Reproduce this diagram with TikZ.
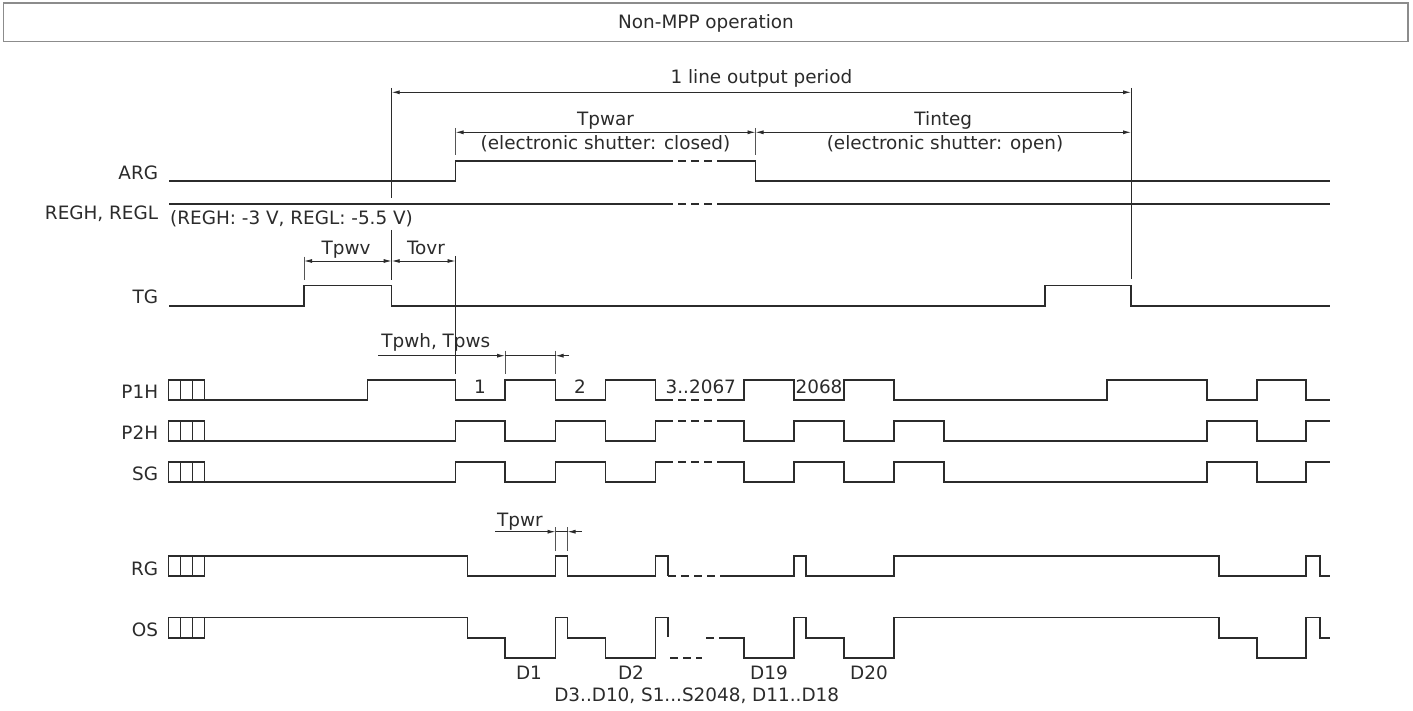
\documentclass[tikz,border=0pt]{standalone}
\usepackage{fontspec}
\setmainfont{DejaVu Sans}
\usetikzlibrary{arrows.meta}
\definecolor{ink}{HTML}{2B2B2B}
\definecolor{framegrey}{HTML}{8C8C8C}
\tikzset{
  sig/.style={draw=ink, line width=1.2pt, line join=miter},
  sigdash/.style={draw=ink, line width=1.2pt, dash pattern=on 8pt off 5pt},
  refline/.style={draw=ink, line width=1pt},
  tick/.style={draw=ink!80, line width=0.9pt},
  dim/.style={draw=ink, line width=0.9pt, {Latex[length=8pt,width=4pt]}-{Latex[length=8pt,width=4pt]}},
  dimr/.style={draw=ink, line width=0.9pt, -{Latex[length=8pt,width=4pt]}},
  lbl/.style={text=ink, font=\fontsize{18.4}{21}\selectfont, inner sep=0pt, anchor=base},
  siglbl/.style={lbl, anchor=base east},
  cellbox/.style={draw=ink, line width=1.2pt}
}
\newcommand{\cells}[3]{% unused, y-top, y-bottom
  \draw[cellbox] (168.3,#2) rectangle (204.3,#3);
  \draw[cellbox] (180.3,#2) -- (180.3,#3);
  \draw[cellbox] (192.3,#2) -- (192.3,#3);
}
\begin{document}
\begin{tikzpicture}[x=1pt,y=-1pt]
\useasboundingbox (0,0) rectangle (1413,711);
\fill[white] (0,0) rectangle (1413,711);

% title
\draw[framegrey, line width=1.3pt] (3.3,3) rectangle (1408,41.7);
\node[lbl] (title) at (706,28.5) {Non-MPP operation};

% signal labels
\node[siglbl] (lARG) at (158.3,179.3) {ARG};
\node[siglbl] (lREG) at (158.3,219.3) {REGH, REGL};
\node[siglbl] (lTG) at (158.3,304) {TG};
\node[siglbl] (lP1H) at (158.3,398.3) {P1H};
\node[siglbl] (lP2H) at (158.3,439.3) {P2H};
\node[siglbl] (lSG) at (158.3,480.7) {SG};
\node[siglbl] (lRG) at (158.3,575.3) {RG};
\node[siglbl] (lOS) at (158.3,636.7) {OS};

% ARG
\draw[sig] (169,181) -- (455.5,181) -- (455.5,161) -- (665,161);
\draw[sigdash] (665,161) -- (720,161);
\draw[sig] (720,161) -- (755.5,161) -- (755.5,181) -- (1330,181);

% REGH, REGL
\draw[sig] (169,204) -- (665,204);
\draw[sigdash] (665,204) -- (720,204);
\draw[sig] (720,204) -- (1330,204);
\node[lbl, anchor=base west] (regtxt) at (170,224.3) {(REGH: -3 V, REGL: -5.5 V)};

% TG
\draw[sig] (169,306) -- (304,306) -- (304,285.7) -- (391.7,285.7) -- (391.7,306)
  -- (1045,306) -- (1045,285.7) -- (1131,285.7) -- (1131,306) -- (1330,306);

% P1H
\cells{0}{380}{400}
\draw[sig] (204.3,400) -- (367.3,400) -- (367.3,380) -- (455.5,380) -- (455.5,400)
  -- (505,400) -- (505,380) -- (555.5,380) -- (555.5,400) -- (605.5,400) -- (605.5,380)
  -- (655.5,380) -- (655.5,400) -- (665,400);
\draw[sigdash] (665,400) -- (720,400);
\draw[sig] (720,400) -- (744,400) -- (744,380) -- (794,380) -- (794,400) -- (844,400)
  -- (844,380) -- (894,380) -- (894,400) -- (1107,400) -- (1107,380) -- (1207,380)
  -- (1207,400) -- (1257,400) -- (1257,380) -- (1306,380) -- (1306,400) -- (1330,400);
\node[lbl] (n1) at (480,393.3) {1};
\node[lbl] (n2) at (580,393.3) {2};
\node[lbl] (n3) at (700.8,393.3) {3..2067};
\node[lbl] (n2068) at (819,393.3) {2068};

% P2H
\cells{0}{421}{441}
\draw[sig] (204.3,441) -- (455.5,441) -- (455.5,421) -- (505,421) -- (505,441)
  -- (555.5,441) -- (555.5,421) -- (605.5,421) -- (605.5,441) -- (655.5,441)
  -- (655.5,421) -- (665,421);
\draw[sigdash] (665,421) -- (720,421);
\draw[sig] (720,421) -- (744,421) -- (744,441) -- (794,441) -- (794,421) -- (844,421)
  -- (844,441) -- (894,441) -- (894,421) -- (944,421) -- (944,441) -- (1207,441)
  -- (1207,421) -- (1257,421) -- (1257,441) -- (1306,441) -- (1306,421) -- (1330,421);

% SG
\cells{0}{462}{482}
\draw[sig] (204.3,482) -- (455.5,482) -- (455.5,462) -- (505,462) -- (505,482)
  -- (555.5,482) -- (555.5,462) -- (605.5,462) -- (605.5,482) -- (655.5,482)
  -- (655.5,462) -- (665,462);
\draw[sigdash] (665,462) -- (720,462);
\draw[sig] (720,462) -- (744,462) -- (744,482) -- (794,482) -- (794,462) -- (844,462)
  -- (844,482) -- (894,482) -- (894,462) -- (944,462) -- (944,482) -- (1207,482)
  -- (1207,462) -- (1257,462) -- (1257,482) -- (1306,482) -- (1306,462) -- (1330,462);

% RG
\cells{0}{556}{576}
\draw[sig] (204.3,556) -- (467.3,556) -- (467.3,576) -- (555.5,576) -- (555.5,556)
  -- (567.5,556) -- (567.5,576) -- (655.5,576) -- (655.5,556) -- (668,556) -- (668,576);
\draw[sigdash] (668,576) -- (726,576);
\draw[sig] (726,576) -- (794,576) -- (794,556) -- (806,556) -- (806,576) -- (894,576)
  -- (894,556) -- (1219,556) -- (1219,576) -- (1306,576) -- (1306,556) -- (1320,556)
  -- (1320,576) -- (1330,576);

% OS
\cells{0}{617.7}{638}
\draw[sig] (204.3,617.7) -- (467.3,617.7) -- (467.3,638) -- (505,638) -- (505,658)
  -- (555.5,658) -- (555.5,617.7) -- (567.5,617.7) -- (567.5,638) -- (605.5,638)
  -- (605.5,658) -- (655.5,658) -- (655.5,617.7) -- (668,617.7) -- (668,637);
\draw[sigdash] (670,658) -- (702,658);
\draw[sigdash] (706,638) -- (726,638);
\draw[sig] (726,638) -- (744,638) -- (744,658) -- (794,658) -- (794,617.7) -- (806,617.7)
  -- (806,638) -- (844,638) -- (844,658) -- (894,658) -- (894,617.7) -- (1219,617.7)
  -- (1219,638) -- (1257,638) -- (1257,658) -- (1306,658) -- (1306,617.7) -- (1320,617.7)
  -- (1320,638) -- (1330,638);
\node[lbl] (d1) at (529,679.3) {D1};
\node[lbl] (d2) at (631,679.3) {D2};
\node[lbl] (d19) at (769,679.3) {D19};
\node[lbl] (d20) at (869,679.3) {D20};
\node[lbl] (dmid) at (696.7,701.7) {D3..D10, S1...S2048, D11..D18};

% reference lines
\coordinate (pStartTop) at (391.7,88);
\coordinate (pEndTop) at (1131,88);
\draw[refline] (pStartTop) -- (391.7,198);
\draw[refline] (391.7,230) -- (391.7,280);
\draw[refline] (pEndTop) -- (1131,279);

% 1 line output period
\coordinate (lpA) at (391.7,92.3);
\coordinate (lpB) at (1131,92.3);
\draw[dim] (lpA) -- (lpB);
\node[lbl] (lp) at (761.4,83.3) {1 line output period};

% Tpwar / Tinteg
\draw[tick] (455.5,128) -- (455.5,155);
\draw[tick] (755.5,128) -- (755.5,155);
\coordinate (twA) at (455.5,132.3);
\coordinate (twB) at (755.5,132.3);
\coordinate (twC) at (1131,132.3);
\draw[dim] (twA) -- (twB);
\draw[dim] (twB) -- (twC);
\node[lbl] (tpwar) at (605.5,126) {Tpwar};
\node[lbl] (closed) at (605.5,150) {(electronic shutter: closed)};
\node[lbl] (tinteg) at (943.3,126) {Tinteg};
\node[lbl] (open) at (945,150) {(electronic shutter: open)};

% Tpwv / Tovr
\draw[tick] (304,256.7) -- (304,280);
\draw[refline] (455.5,256) -- (455.5,374);
\coordinate (tvA) at (304,261);
\coordinate (tvB) at (391.7,261);
\coordinate (tvC) at (455.5,261);
\draw[dim] (tvA) -- (tvB);
\draw[dim] (tvB) -- (tvC);
\node[lbl] (tpwv) at (346,255) {Tpwv};
\node[lbl] (tovr) at (426,255) {Tovr};

% Tpwh, Tpws
\draw[tick] (505,350.7) -- (505,374);
\draw[tick] (555.5,350.7) -- (555.5,374);
\coordinate (thA) at (378,355.7);
\coordinate (thB) at (505,355.7);
\coordinate (thC) at (555.5,355.7);
\coordinate (thD) at (569,355.7);
\draw[dimr] (thA) -- (thB);
\draw[draw=ink, line width=0.9pt] (thB) -- (thC);
\draw[dimr] (thD) -- (thC);
\node[lbl] (tpwh) at (435.8,347.8) {Tpwh, Tpws};

% Tpwr
\draw[tick] (555.5,527.3) -- (555.5,551);
\draw[tick] (567.5,527.3) -- (567.5,551);
\coordinate (trA) at (495,531.7);
\coordinate (trB) at (555.5,531.7);
\coordinate (trC) at (567.5,531.7);
\coordinate (trD) at (581.7,531.7);
\draw[dimr] (trA) -- (trB);
\draw[draw=ink, line width=0.9pt] (trB) -- (trC);
\draw[dimr] (trD) -- (trC);
\node[lbl] (tpwr) at (520,526) {Tpwr};
\end{tikzpicture}
\end{document}
